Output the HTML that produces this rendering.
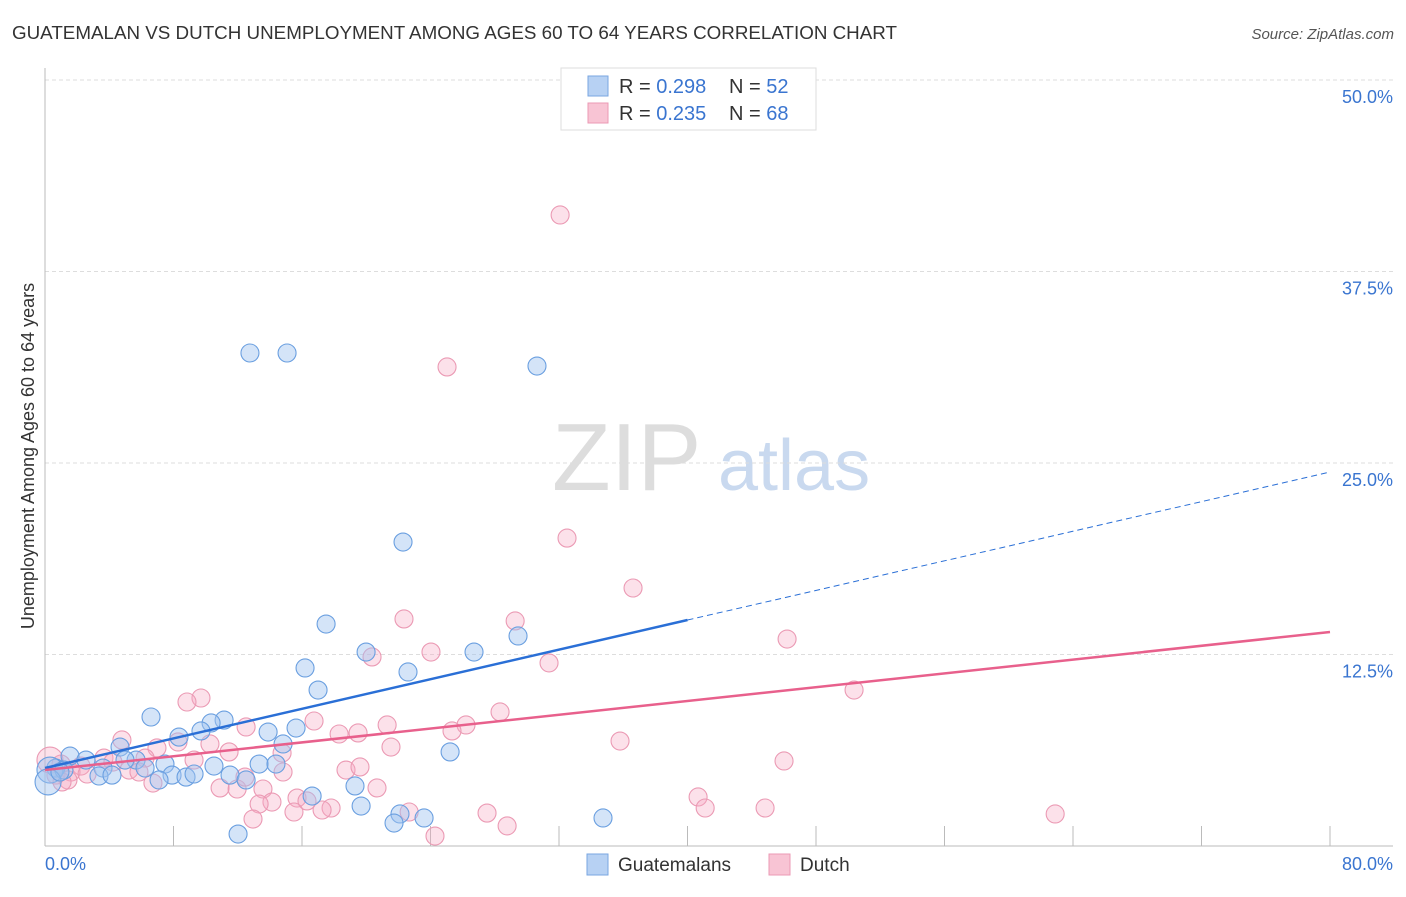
<!DOCTYPE html>
<html><head><meta charset="utf-8"><style>
body{margin:0;background:#fff;font-family:"Liberation Sans",sans-serif}
svg text{font-family:"Liberation Sans",sans-serif}
</style></head><body>
<svg id="chart" width="1406" height="892">
<text x="12" y="39" font-size="18" fill="#333" textLength="885" lengthAdjust="spacingAndGlyphs">GUATEMALAN VS DUTCH UNEMPLOYMENT AMONG AGES 60 TO 64 YEARS CORRELATION CHART</text>
<text x="1394" y="39" font-size="15" fill="#555" font-style="italic" text-anchor="end">Source: ZipAtlas.com</text>
<g>
<text x="552" y="490" font-size="96" font-family="Liberation Serif,serif" fill="#ddd">ZIP</text>
<text x="718" y="490" font-size="72" fill="#c9d9ef">atlas</text>
</g>
<g id="grid"></g>
<g id="axes"></g>
<g id="marks"></g>
<text transform="translate(34,456) rotate(-90)" font-size="18" fill="#333" text-anchor="middle">Unemployment Among Ages 60 to 64 years</text>
<text x="45" y="870" font-size="18" fill="#3a75d0">0.0%</text>
<text x="1393" y="870" font-size="18" fill="#3a75d0" text-anchor="end">80.0%</text>
<g>
<rect x="561" y="68" width="255" height="62" fill="#fff" stroke="#ddd"/>
<rect x="588" y="76" width="20" height="20" fill="#b7d1f3" stroke="#7aa6e0"/>
<rect x="588" y="103" width="20" height="20" fill="#f8c4d4" stroke="#eb9ab4"/>
<text x="619" y="93" font-size="20" fill="#333">R = <tspan fill="#3a75d0">0.298</tspan></text>
<text x="729" y="93" font-size="20" fill="#333">N = <tspan fill="#3a75d0">52</tspan></text>
<text x="619" y="120" font-size="20" fill="#333">R = <tspan fill="#3a75d0">0.235</tspan></text>
<text x="729" y="120" font-size="20" fill="#333">N = <tspan fill="#3a75d0">68</tspan></text>
</g>
<g>
<rect x="587" y="854" width="21" height="21" fill="#b7d1f3" stroke="#7aa6e0"/>
<text x="618" y="871" font-size="19" fill="#333">Guatemalans</text>
<rect x="769" y="854" width="21" height="21" fill="#f8c4d4" stroke="#eb9ab4"/>
<text x="800" y="871" font-size="19" fill="#333">Dutch</text>
</g>
</svg>
<script>
const yTicks=[12.5,25,37.5,50];
const yTickLabels=["12.5%","25.0%","37.5%","50.0%"];
const xTicks=[8,16,24,32,40,48,56,64,72,80];
const blueX=[12.76,15.07,30.63,22.29,17.50,29.45,19.99,26.71,16.19,22.60,17.00,6.60,11.15,10.34,8.34,9.71,13.89,15.63,14.82,25.22,4.67,1.56,2.55,5.67,7.47,13.33,14.38,10.52,0.68,3.61,6.23,0.31,1.18,3.36,4.17,7.91,8.78,9.28,11.52,7.10,12.52,19.30,16.63,19.68,22.10,23.60,21.73,34.74,12.02,0.19,0.93,4.98];
const blueY=[32.18,32.18,31.33,19.84,14.49,13.71,12.66,12.66,11.62,11.36,10.18,8.42,8.22,8.03,7.11,7.51,7.44,7.70,6.66,6.14,6.46,5.87,5.61,5.61,5.35,5.35,5.35,5.22,5.09,5.09,5.09,4.96,4.96,4.57,4.63,4.63,4.50,4.70,4.63,4.31,4.31,3.92,3.26,2.61,2.09,1.83,1.50,1.83,0.78,4.18,4.83,5.61];
const pinkX=[32.07,25.03,32.50,36.61,22.35,29.27,46.20,20.36,24.03,31.38,50.37,9.71,8.84,28.33,16.75,26.21,12.52,21.30,25.34,19.49,18.31,4.79,10.27,8.28,21.54,35.80,6.97,14.76,11.46,3.67,46.01,6.23,9.28,4.23,1.00,2.24,5.23,5.85,1.62,14.82,18.74,19.61,0.31,0.68,2.62,1.43,1.06,6.72,10.90,11.96,13.57,20.67,12.45,15.69,16.31,14.13,13.33,17.81,17.25,15.50,40.66,41.10,44.83,22.67,27.52,28.77,62.89,24.28,12.95];
const pinkY=[41.19,31.27,20.10,16.84,14.82,14.69,13.51,12.34,12.66,11.95,10.18,9.66,9.40,8.75,8.16,7.90,7.77,7.90,7.51,7.38,7.31,6.92,6.66,6.79,6.46,6.85,6.40,6.07,6.14,5.74,5.55,5.74,5.61,5.48,5.35,5.22,4.96,4.83,4.83,4.83,4.96,5.16,5.61,4.63,4.70,4.31,4.18,4.11,3.79,3.72,3.72,3.79,4.50,3.13,2.94,2.87,2.74,2.48,2.35,2.22,3.20,2.48,2.48,2.22,2.15,1.31,2.09,0.65,1.76];
const blueTrend=[5.09,24.41];
const blueSolidEnd=40;
const pinkTrend=[4.96,13.97];
const NS="http://www.w3.org/2000/svg";
const X=v=>45+v*(1330-45)/80;
const Y=v=>846-v*(846-80)/50;
function mk(t,a,p){const e=document.createElementNS(NS,t);for(const k in a)e.setAttribute(k,a[k]);p.appendChild(e);return e;}
const grid=document.getElementById('grid'),axes=document.getElementById('axes'),marks=document.getElementById('marks');
yTicks.forEach((t,i)=>{
 const l=mk('line',{x1:45,x2:1393,y1:Y(t),y2:Y(t),stroke:'#ddd','stroke-dasharray':'4,3'},grid);
 
 
 const tx=mk('text',{x:1393,y:Y(t)+23,'font-size':18,fill:'#3a75d0','text-anchor':'end'},grid);
 tx.textContent=yTickLabels[i];
 
 
});
const ya=mk('line',{x1:45,x2:45,y1:68,y2:846,stroke:'#bbb'},axes);


const xa=mk('line',{x1:45,x2:1393,y1:846,y2:846,stroke:'#bbb'},axes);


xTicks.forEach(t=>{
 const l=mk('line',{x1:X(t),x2:X(t),y1:826,y2:846,stroke:'#bbb'},axes);
 
 
});
function dots(xs,ys,fill,stroke,name){
 xs.forEach((x,i)=>{
  const big=(x<0.5);
  const c=mk('circle',{cx:X(x),cy:Y(ys[i]),r:big?13:9,fill:fill,stroke:stroke,'stroke-width':1.1},marks);
  
  
 });
}
dots(pinkX,pinkY,'rgba(245,170,195,0.35)','#eb9ab4','dutch-point');
dots(blueX,blueY,'rgba(160,195,240,0.45)','#6a9fe0','guatemalan-point');
const bAt=v=>blueTrend[0]+(blueTrend[1]-blueTrend[0])*v/80;
const b1=mk('line',{x1:X(0),y1:Y(bAt(0)),x2:X(blueSolidEnd),y2:Y(bAt(blueSolidEnd)),stroke:'#2a6fd6','stroke-width':2.5},marks);


const b2=mk('line',{x1:X(blueSolidEnd),y1:Y(bAt(blueSolidEnd)),x2:X(80),y2:Y(bAt(80)),stroke:'#2a6fd6','stroke-width':1,'stroke-dasharray':'6,4'},marks);


const p1=mk('line',{x1:X(0),y1:Y(pinkTrend[0]),x2:X(80),y2:Y(pinkTrend[1]),stroke:'#e8608c','stroke-width':2.5},marks);


</script>
</body></html>
